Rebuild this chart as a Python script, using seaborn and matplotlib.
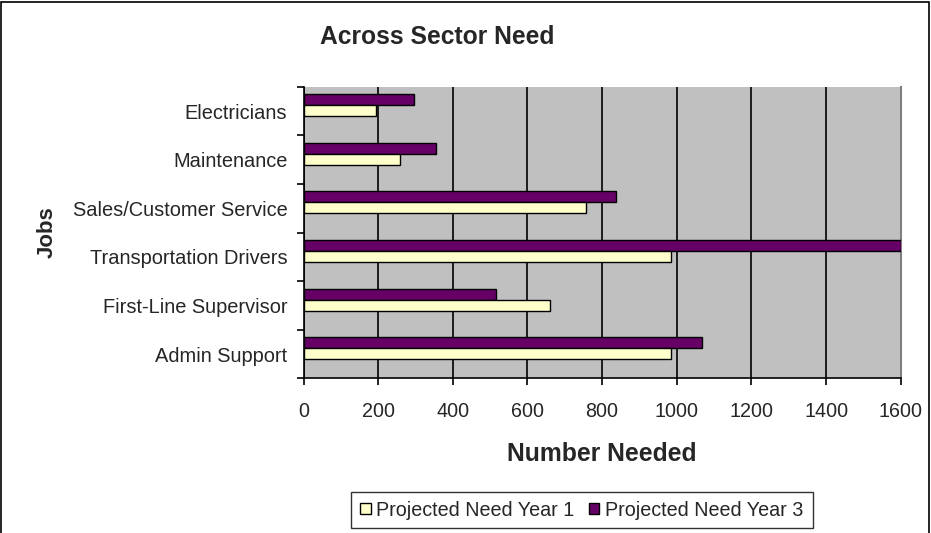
import numpy as np
import pandas as pd
import matplotlib
matplotlib.use('Agg')
import matplotlib.pyplot as plt
from matplotlib.patches import Patch, Rectangle
import seaborn as sns

# values
jobs = ["Electricians", "Maintenance", "Sales/Customer Service",
        "Transportation Drivers", "First-Line Supervisor", "Admin Support"]
year1 = [195, 258, 757, 984, 660, 984]
year3 = [296, 354, 837, 1600, 515, 1068]
series = ["Projected Need Year 1", "Projected Need Year 3"]
x_ticks = [0, 200, 400, 600, 800, 1000, 1200, 1400, 1600]

colors = {series[0]: "#FFFFCC", series[1]: "#660066"}

df = pd.DataFrame({
    "job": jobs * 2,
    "need": year1 + year3,
    "series": [series[0]] * len(jobs) + [series[1]] * len(jobs),
})

sns.set_style("white")
plt.rcParams['font.family'] = ['Liberation Sans', 'DejaVu Sans']

fig = plt.figure(figsize=(9.31, 5.33), dpi=100)
ax = fig.add_axes([0.326, 0.2902, 0.6415, 0.5471])
ax.set_facecolor("#C0C0C0")

sns.barplot(data=df, x="need", y="job", hue="series", order=jobs,
            hue_order=[series[1], series[0]], palette=colors, width=0.45,
            edgecolor="black", linewidth=1.0, saturation=1, legend=False,
            orient="h", ax=ax, zorder=3)

# Excel puts the bar pair a bit above the label centre
shift = 0.12
n = len(jobs)
ax.set_ylim(n - 0.5 + shift, -0.5 + shift)
ax.set_yticks(np.arange(n) + shift, labels=jobs)
ax.set_yticks(np.arange(n + 1) - 0.5 + shift, minor=True)
ax.tick_params(axis='y', which='major', length=0, pad=11.7, labelsize=14.4)
ax.tick_params(axis='y', which='minor', length=5, width=1.2, color='black',
               direction='out', left=True)

ax.set_xlim(0, 1600)
ax.set_xticks(x_ticks)
ax.tick_params(axis='x', length=5, width=1.2, color='black', direction='out',
               pad=12, labelsize=14.2, bottom=True)
ax.grid(axis='x', color='black', linewidth=1.2, zorder=1)
ax.grid(axis='y', visible=False)
ax.set_axisbelow(True)

for side in ['left', 'bottom']:
    ax.spines[side].set_color('black')
    ax.spines[side].set_linewidth(1.2)
ax.spines['top'].set_visible(False)
ax.spines['right'].set_color('#808080')
ax.spines['right'].set_linewidth(1.5)

ax.set_xlabel("Number Needed", fontsize=17.8, fontweight='bold', labelpad=15)
ax.set_ylabel("Jobs", fontsize=16, fontweight='bold')
ax.yaxis.set_label_coords(-0.412, 0.5)

fig.text(437 / 931, 1 - 37 / 533, "Across Sector Need", fontsize=17.7,
         fontweight='bold', ha='center', va='center')

handles = [Patch(facecolor=colors[s], edgecolor='black', linewidth=1.0) for s in series]
leg = fig.legend(handles, series, ncol=2, loc='center',
                 bbox_to_anchor=(581.7 / 931, 1 - 510 / 533), fontsize=14.2,
                 frameon=True, fancybox=False, handlelength=0.55, handleheight=0.55,
                 handletextpad=0.3, columnspacing=0.7, borderpad=0.45)
leg.get_frame().set_edgecolor('black')
leg.get_frame().set_linewidth(1.0)

# outer chart border (bottom edge falls outside the image)
fig.patches.append(Rectangle((0.0015, -0.1), 0.996, 1.097, transform=fig.transFigure,
                             fill=False, edgecolor='black', linewidth=1.2))

fig.savefig("out.png", dpi=100)
